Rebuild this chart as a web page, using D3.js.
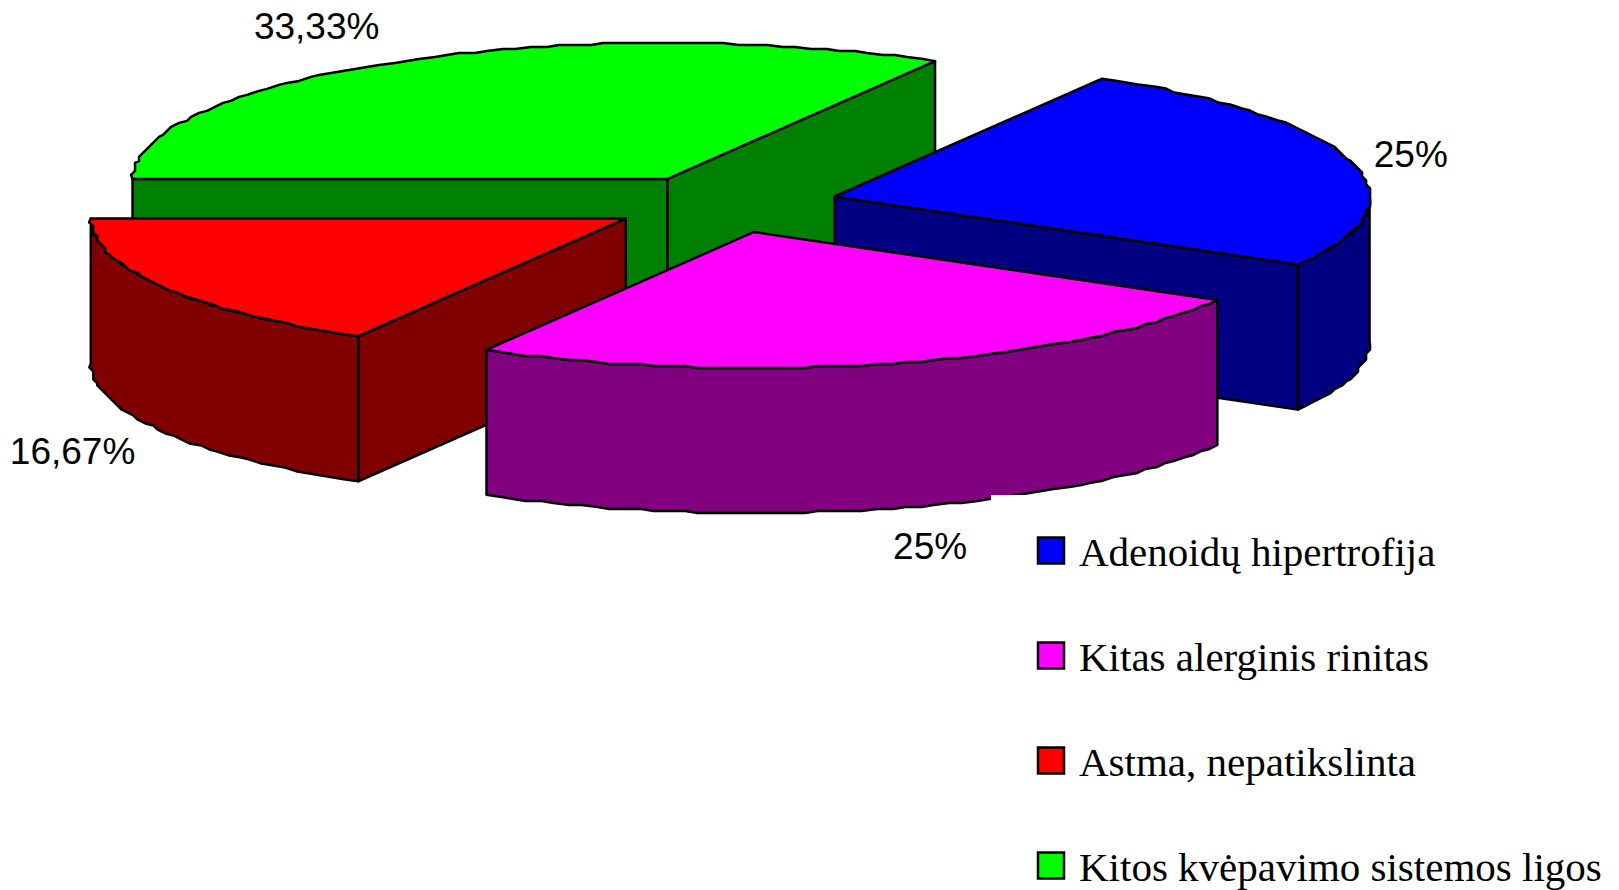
<!DOCTYPE html>
<html>
<head>
<meta charset="utf-8">
<script src="https://cdn.jsdelivr.net/npm/d3@7"></script>
<style>
  html, body { margin: 0; background: #fff; overflow: hidden; }
  svg { display: block; }
</style>
</head>
<body>
<div id="chart"></div>
<script>
// chart data
const categories = ["Adenoidų hipertrofija", "Kitas alerginis rinitas", "Astma, nepatikslinta", "Kitos kvėpavimo sistemos ligos"];
const values = [25, 25, 16.67, 33.33];
const valueLabels = ["25%", "25%", "16,67%", "33,33%"];
const topColors = ["#0000ff", "#ff00ff", "#ff0000", "#00ff00"];
const sideColors = ["#000080", "#800080", "#800000", "#008000"];

const width = 1619, height = 890;
const center = { x: 724.5, y: 204 }, rx = 535, ry = 136; // flattened pie
const depth = 145, explode = 0.213;
const rad = Math.PI / 180;

// how far each value label sits from its slice, in pie radii
const labelReach = [[1.115, 1.2], [1.272, 1.285], [1.194, 1.282], [1.312, 1.297]];

const svg = d3.select("#chart").append("svg")
    .attr("width", width)
    .attr("height", height)
    .attr("viewBox", [0, 0, width, height]);

const x = d3.scaleLinear().domain([-1, 1]).range([center.x - rx, center.x + rx]);
const y = d3.scaleLinear().domain([-1, 1]).range([center.y - ry, center.y + ry]);

// first slice starts at 30 degrees, clockwise from the top
const slices = d3.pie().sort(null)
    .startAngle(30 * rad)
    .endAngle(390 * rad)(values);

const project = (angle, r) => [x(r * Math.sin(angle)), y(-r * Math.cos(angle))];
const line = d3.line();

// rim is drawn as a coarse stepped polyline, like the old chart renderer
function rim(a0, a1) {
    const n = Math.max(1, Math.round((a1 - a0) / (1.6 * rad)));
    const pts = d3.range(n + 1).map(i => {
        const p = project(a0 + (a1 - a0) * i / n, 1);
        if (i === 0 || i === n) return p;
        return [Math.round(p[0] / 4) * 4, Math.round(p[1] / 2) * 2];
    });
    return pts;
}

const drawOrder = [3, 0, 2, 1]; // back to front

drawOrder.forEach(i => {
    const s = slices[i];
    const mid = (s.startAngle + s.endAngle) / 2;
    const dx = x(explode * Math.sin(mid)) - x(0);
    const dy = y(-explode * Math.cos(mid)) - y(0);
    const g = svg.append("g").attr("transform", `translate(${dx},${dy})`);
    const apex = project(0, 0);
    const down = p => [p[0], p[1] + depth];

    const face = pts => g.append("path")
        .attr("d", line(pts) + "Z")
        .attr("fill", sideColors[i])
        .attr("stroke", "#000")
        .attr("stroke-width", 2.5)
        .attr("stroke-linejoin", "round");

    // cut faces turned towards the viewer
    if (Math.sin(s.startAngle) < 0) {
        const p = project(s.startAngle, 1);
        face([apex, p, down(p), down(apex)]);
    }
    if (Math.sin(s.endAngle) > 0) {
        const p = project(s.endAngle, 1);
        face([apex, p, down(p), down(apex)]);
    }

    // outer wall, front half of the ellipse only
    const w0 = Math.max(s.startAngle, 90 * rad), w1 = Math.min(s.endAngle, 270 * rad);
    if (w1 > w0) {
        const edge = rim(w0, w1);
        face(edge.concat(edge.map(down).reverse()));
    }

    // top
    g.append("path")
        .attr("d", line([apex].concat(rim(s.startAngle, s.endAngle))) + "Z")
        .attr("fill", topColors[i])
        .attr("stroke", "#000")
        .attr("stroke-width", 2.5)
        .attr("stroke-linejoin", "round");
});

// value labels
slices.forEach((s, i) => {
    const mid = (s.startAngle + s.endAngle) / 2;
    const kx = labelReach[i][0], ky = labelReach[i][1];
    const below = Math.cos(mid) < 0 ? depth : 0;
    svg.append("text")
        .attr("x", x((explode + kx) * Math.sin(mid)))
        .attr("y", y(-(explode + ky) * Math.cos(mid)) + below + 13)
        .attr("text-anchor", "middle")
        .attr("font-family", "'Liberation Sans', Arial, sans-serif")
        .attr("font-size", 37)
        .attr("fill", "#000")
        .text(valueLabels[i]);
});

// legend, its white box clips a corner of the magenta slice
const legend = svg.append("g").attr("transform", "translate(991,495)");
legend.append("rect")
    .attr("width", width - 991)
    .attr("height", height - 495)
    .attr("fill", "#fff");

const legendY = d3.scalePoint().domain(categories).range([56, 371]);

categories.forEach((c, i) => {
    legend.append("rect")
        .attr("x", 47)
        .attr("y", legendY(c) - 13.5)
        .attr("width", 26)
        .attr("height", 26)
        .attr("fill", topColors[i])
        .attr("stroke", "#000")
        .attr("stroke-width", 2.5);
    legend.append("text")
        .attr("x", 88)
        .attr("y", legendY(c) + 15)
        .attr("font-family", "'Liberation Serif', 'Times New Roman', serif")
        .attr("font-size", 41)
        .attr("fill", "#000")
        .text(c);
});
</script>
</body>
</html>
